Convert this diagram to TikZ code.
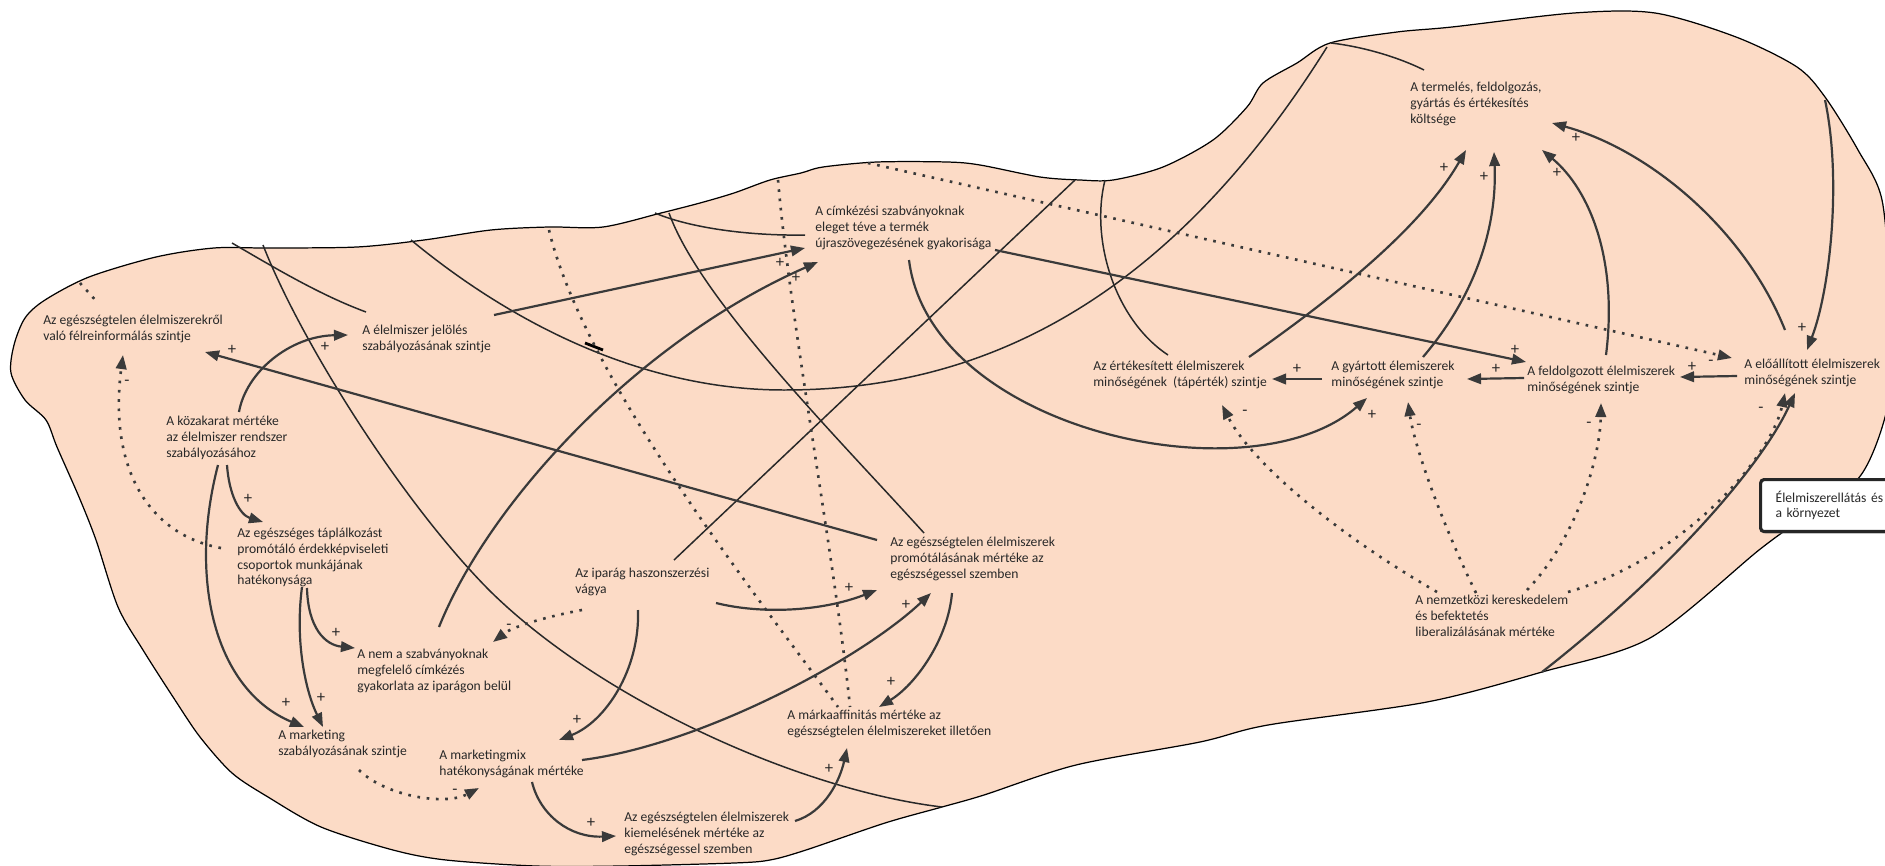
\documentclass[tikz,border=0pt]{standalone}
\usepackage{fontspec}
\setmainfont{Carlito}
\usetikzlibrary{arrows.meta,shadows}
\definecolor{blob}{RGB}{252,219,198}
\definecolor{ink}{RGB}{40,40,40}
\definecolor{arrowc}{RGB}{58,58,58}
\tikzset{
  lbl/.style={anchor=north west,inner sep=0pt,align=left,text=ink,font=\fontsize{7.75}{8.9}\selectfont},
  sgn/.style={inner sep=0pt,text=ink,font=\fontsize{9.5}{10}\selectfont},
  posarr/.style={draw=arrowc,line width=1.25pt,-{Triangle[length=8pt,width=6pt]}},
  negdot/.style={draw=arrowc,line width=1.5pt,dash pattern=on 1.5pt off 3.8pt,-{Triangle[length=8pt,width=6pt]}},
  dotline/.style={draw=arrowc,line width=1.5pt,dash pattern=on 1.5pt off 3.8pt},
  thinline/.style={draw=ink,line width=0.85pt}
}
\begin{document}
\begin{tikzpicture}[x=0.02cm,y=-0.02cm]
\useasboundingbox (0,0) rectangle (1885,865);
% the region
\filldraw[fill=blob,draw=black,line width=0.7pt] plot[smooth cycle,tension=0.5] coordinates {
(14,345) (25,318) (45,300) (89,277) (156,257) (214,248) (268,248) (357,247) (424,240)
(491,230) (549,227) (603,227) (661,213) (700,203) (734,193) (770,180) (801,173) (823,167)
(877,162) (947,162) (980,165) (1040,177) (1080,180) (1113,180) (1163,167) (1213,140)
(1247,107) (1263,83) (1297,63) (1330,43) (1397,32) (1452,27) (1574,13) (1655,13) (1736,37)
(1797,67) (1825,97) (1858,150) (1882,200) (1890,300) (1890,395) (1861,475) (1800,520)
(1759,550) (1650,638) (1542,672) (1427,702) (1268,725) (1200,742) (1076,765) (984,795)
(942,807) (885,823) (806,850) (770,860) (734,863) (620,866) (536,866) (446,860) (393,850)
(321,827) (268,797) (232,773) (200,737) (175,700) (143,650) (118,607) (96,540) (79,497)
(57,447) (46,420) (25,400) (11,373)};
%
\coordinate (edgeA) at (263,245);
\coordinate (edgeB) at (232,243);
\coordinate (edgeC) at (411,240);
\coordinate (edgeD) at (1075,180);
\coordinate (edgeE) at (1105,180);
\coordinate (edgeJ) at (655,213);
\coordinate (edgeK) at (669,213);
\coordinate (edgeM) at (1331,43);
\coordinate (edgeCend) at (1327,47);
\coordinate (edgeAend) at (942,807);
\coordinate (edgeV1) at (549,230);
\coordinate (edgeV2) at (778,180);
\coordinate (edgeDot) at (868,163);
\coordinate (edgeStub) at (80,283);
\coordinate (edgeR) at (1825,100);
\coordinate (edgeBot) at (1542,672);
%
\node[lbl] (t1) at (43,315) {Az egészségtelen élelmiszerekről\\való félreinformálás szintje};
\node[lbl] (t2) at (362,325) {A élelmiszer jelölés\\szabályozásának szintje};
\node[lbl] (t3) at (166,416) {A közakarat mértéke\\az élelmiszer rendszer\\szabályozásához};
\node[lbl] (t4) at (237,528) {Az egészséges táplálkozást\\promótáló érdekképviseleti\\csoportok munkájának\\hatékonysága};
\node[lbl] (t5) at (357,649) {A nem a szabványoknak\\megfelelő címkézés\\gyakorlata az iparágon belül};
\node[lbl] (t6) at (278,730) {A marketing\\szabályozásának szintje};
\node[lbl] (t7) at (439,750) {A marketingmix\\hatékonyságának mértéke};
\node[lbl] (t8) at (624,812) {Az egészségtelen élelmiszerek\\kiemelésének mértéke az\\egészségessel szemben};
\node[lbl] (t9) at (787,710) {A márkaaffinitás mértéke az\\egészségtelen élelmiszereket illetően};
\node[lbl] (t10) at (575,568) {Az iparág haszonszerzési\\vágya};
\node[lbl] (t11) at (890,537) {Az egészségtelen élelmiszerek\\promótálásának mértéke az\\egészségessel szemben};
\node[lbl] (t12) at (815,206) {A címkézési szabványoknak\\eleget téve a termék\\újraszövegezésének gyakorisága};
\node[lbl] (t13) at (1410,82) {A termelés, feldolgozás,\\gyártás és értékesítés\\költsége};
\node[lbl] (t14) at (1093,361) {Az értékesített élelmiszerek\\minőségének\ \ (tápérték) szintje};
\node[lbl] (t15) at (1331,361) {A gyártott élemiszerek\\minőségének szintje};
\node[lbl] (t16) at (1527,366) {A feldolgozott élelmiszerek\\minőségének szintje};
\node[lbl] (t17) at (1744,359) {A előállított élelmiszerek\\minőségének szintje};
\node[lbl] (t18) at (1415,595) {A nemzetközi kereskedelem\\és befektetés\\liberalizálásának mértéke};
%
% lines that run on behind the region
\draw[thinline] (edgeA) .. controls (300,340) and (400,500) .. (489,590) .. controls (600,700) and (800,790) .. (edgeAend);
\draw[thinline] (edgeB) .. controls (275,268) and (320,295) .. ([shift={(4,-13)}]t2.north west);
\draw[thinline] (edgeC) .. controls (520,330) and (650,390) .. (784,390) .. controls (950,390) and (1150,330) .. (edgeCend);
\draw[line width=1.6pt] (585,343)--(603,350);
\draw[thinline] ([shift={(99,-8)}]t10.north west) -- (edgeD);
\draw[thinline] (edgeE) .. controls (1090,240) and (1115,320) .. ([shift={(75,-6)}]t14.north west);
\draw[thinline] (edgeJ) .. controls (690,228) and (750,236) .. ([shift={(-10,29)}]t12.north west);
\draw[thinline] (edgeK) .. controls (700,300) and (840,440) .. ([shift={(34,-4)}]t11.north west);
\draw[thinline] (edgeM) .. controls (1365,47) and (1400,58) .. ([shift={(14,-12)}]t13.north west);
\draw[dotline] (edgeStub) -- ([shift={(55,-12)}]t1.north west);
\draw[dotline] (edgeV1) .. controls (585,380) and (760,600) .. ([shift={(51,-3)}]t9.north west);
\draw[dotline] (edgeV2) .. controls (790,320) and (835,560) .. ([shift={(63,-3)}]t9.north west);
%
% left part
\draw[posarr] ([shift={(73,-4)}]t3.north west) .. controls (246,372) and (290,336) .. ([shift={(-14,10)}]t2.north west);
\draw[posarr] ([shift={(61,49)}]t3.north west) .. controls (229,495) and (240,515) .. ([shift={(26,-6)}]t4.north west);
\draw[posarr] ([shift={(52,49)}]t3.north west) .. controls (188,580) and (215,690) .. ([shift={(26,-3)}]t6.north west);
\draw[posarr] ([shift={(65,59)}]t4.north west) .. controls (295,640) and (305,690) .. ([shift={(45,-3)}]t6.north west);
\draw[posarr] ([shift={(70,60)}]t4.north west) .. controls (308,628) and (325,645) .. ([shift={(-2,-1)}]t5.north west);
\draw[negdot] ([shift={(-16,20)}]t4.north west) .. controls (150,535) and (108,470) .. ([shift={(80,40)}]t1.north west);
\draw[negdot] ([shift={(81,40)}]t6.north west) .. controls (385,796) and (445,806) .. ([shift={(40,38)}]t7.north west);
\draw[negdot] ([shift={(7,42)}]t10.north west) .. controls (555,615) and (515,625) .. ([shift={(136,-7)}]t5.north west);
%
% middle part
\draw[posarr] ([shift={(63,42)}]t10.north west) .. controls (640,670) and (605,722) .. ([shift={(120,-10)}]t7.north west);
\draw[posarr] ([shift={(141,35)}]t10.north west) .. controls (760,614) and (820,612) .. ([shift={(-13,53)}]t11.north west);
\draw[posarr] ([shift={(143,10)}]t7.north west) .. controls (700,745) and (860,660) .. ([shift={(41,56)}]t11.north west);
\draw[posarr] ([shift={(62,56)}]t11.north west) .. controls (948,640) and (915,685) .. ([shift={(92,-3)}]t9.north west);
\draw[posarr] ([shift={(93,32)}]t7.north west) .. controls (540,815) and (570,838) .. ([shift={(-8,24)}]t8.north west);
\draw[posarr] ([shift={(171,9)}]t8.north west) .. controls (825,812) and (840,780) .. ([shift={(60,38)}]t9.north west);
\draw[posarr] ([shift={(132,-10)}]t2.north west) -- ([shift={(-10,42)}]t12.north west);
\draw[posarr] ([shift={(82,-22)}]t5.north west) .. controls (490,500) and (640,340) .. ([shift={(3,56)}]t12.north west);
\draw[posarr] ([shift={(-13,3)}]t11.north west) -- ([shift={(162,37)}]t1.north west);
%
% right part
\draw[posarr] ([shift={(180,44)}]t12.north west) -- ([shift={(-1,-4)}]t16.north west);
\draw[posarr] ([shift={(94,54)}]t12.north west) .. controls (930,430) and (1250,500) .. ([shift={(36,37)}]t15.north west);
\draw[posarr] ([shift={(156,-4)}]t14.north west) .. controls (1330,300) and (1420,230) .. ([shift={(56,68)}]t13.north west);
\draw[posarr] ([shift={(92,-4)}]t15.north west) .. controls (1480,290) and (1497,220) .. ([shift={(84,70)}]t13.north west);
\draw[posarr] ([shift={(79,-11)}]t16.north west) .. controls (1618,260) and (1590,190) .. ([shift={(132,68)}]t13.north west);
\draw[posarr] ([shift={(41,-29)}]t17.north west) .. controls (1745,230) and (1650,150) .. ([shift={(142,41)}]t13.north west);
\draw[posarr] (edgeR) .. controls (1842,180) and (1830,290) .. ([shift={(63,-9)}]t17.north west);
\draw[posarr] (edgeBot) .. controls (1660,580) and (1760,470) .. ([shift={(51,34)}]t17.north west);
\draw[posarr] ([shift={(-9,18)}]t15.north west) -- ([shift={(179,18)}]t14.north west);
\draw[posarr] ([shift={(-3,12)}]t16.north west) -- ([shift={(136,18)}]t15.north west);
\draw[posarr] ([shift={(-7,17)}]t17.north west) -- ([shift={(153,11)}]t16.north west);
\draw[negdot] (edgeDot) -- ([shift={(-12,-1)}]t17.north west);
\draw[negdot] ([shift={(22,-3)}]t18.north west) .. controls (1330,530) and (1250,460) .. ([shift={(129,44)}]t14.north west);
\draw[negdot] ([shift={(61,-2)}]t18.north west) .. controls (1445,530) and (1415,450) .. ([shift={(77,41)}]t15.north west);
\draw[negdot] ([shift={(112,-5)}]t18.north west) .. controls (1575,540) and (1600,460) .. ([shift={(74,37)}]t16.north west);
\draw[negdot] ([shift={(153,-3)}]t18.north west) .. controls (1680,560) and (1770,460) .. ([shift={(41,34)}]t17.north west);
%
% polarity signs
\foreach \x/\y/\s [count=\i] in {325/347/+,248/499/+,286/703/+,321/698/+,336/633/+,127/383/-,
  455/792/-,509/627/-,577/720/+,849/588/+,906/605/+,891/682/+,591/823/+,829/769/+,780/263/+,
  796/278/+,232/350/+,1515/350/+,1372/415/+,1444/168/+,1484/177/+,1557/173/+,1576/138/+,
  1802/328/+,1297/369/+,1496/369/+,1692/367/+,1711/363/-,1245/413/-,1419/427/-,1589/425/-,1761/410/-}
  \node[sgn] (s\i) at (\x,\y) {\s};
%
\node[anchor=north west,draw=black!85,line width=1.8pt,rounded corners=2pt,fill=white,
  drop shadow={shadow xshift=1pt,shadow yshift=-1.2pt,opacity=.45},
  minimum width=2.8cm,minimum height=1.04cm,text width=2.2cm,align=left,inner xsep=0.3cm,
  text=ink,font=\fontsize{7.75}{8.9}\selectfont] (env) at (1759,478) {Élelmiszerellátás és\\a környezet};
\end{tikzpicture}
\end{document}
